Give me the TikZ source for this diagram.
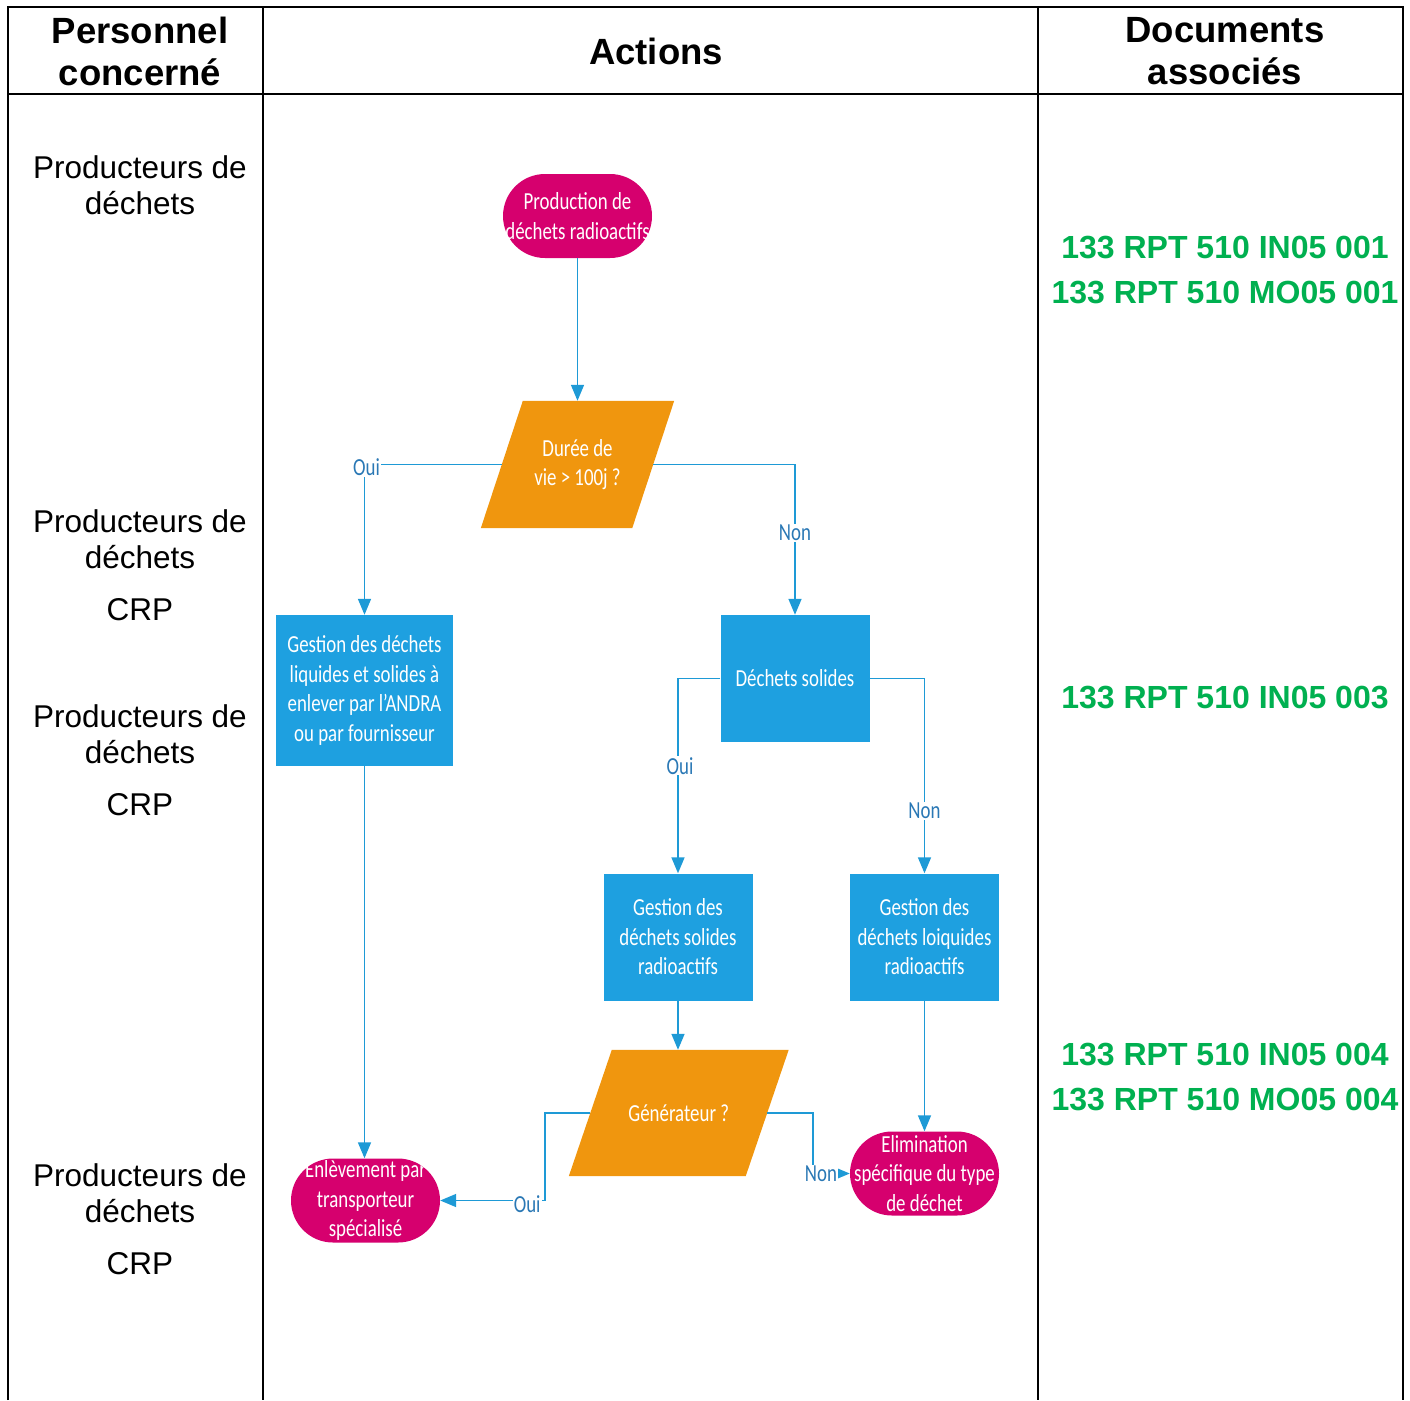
\documentclass[tikz,border=0pt]{standalone}
\usepackage{fontspec}
\setmainfont{Liberation Sans}
\newfontfamily\flowfont[FakeStretch=0.77]{Carlito}
\usetikzlibrary{arrows.meta,backgrounds}
\definecolor{termcol}{HTML}{D6006E}
\definecolor{deccol}{HTML}{F0960E}
\definecolor{boxcol}{HTML}{1EA0E0}
\definecolor{conncol}{HTML}{1E9AD6}
\definecolor{labcol}{HTML}{2A78B5}
\definecolor{doccol}{HTML}{00B050}
\tikzset{
  ftext/.style={font=\flowfont\fontsize{24.5}{29.5}\selectfont, text=white, align=center, inner sep=0pt},
  term/.style={ftext, fill=termcol, rounded corners=42pt, minimum width=149pt, minimum height=84pt},
  procbox/.style={ftext, fill=boxcol, minimum width=149pt, minimum height=127pt},
  decbox/.style={ftext, minimum height=127pt},
  conn/.style={draw=conncol, line width=1.6pt, -{Triangle[length=16pt,width=13pt]}},
  lab/.style={font=\flowfont\fontsize{24.5}{27}\selectfont, text=labcol, fill=white, inner sep=1pt},
  lane/.style={font=\fontsize{31.5}{36}\selectfont, align=center},
  head/.style={font=\bfseries\fontsize{36.5}{42}\selectfont, align=center},
  doc/.style={font=\bfseries\fontsize{32}{45}\selectfont, text=doccol, align=center},
  tab/.style={line width=2pt, black}
}
\begin{document}
\begin{tikzpicture}[x=1pt,y=-1pt]
\useasboundingbox (0,0) rectangle (1410,1400);
% table
\draw[tab] (8,1400) -- (8,7) -- (1403,7) -- (1403,1400);
\draw[tab] (8,94) -- (1403,94);
\draw[tab] (263,7) -- (263,1400);
\draw[tab] (1038,7) -- (1038,1400);
% headers
\node[head] (h1) at (140,51) {Personnel\\concerné};
\node[head] (h2) at (656,51) {Actions};
\node[head] (h3) at (1225,51) {Documents\\associés};
% lane texts
\node[lane] (p1) at (140,185) {Producteurs de\\déchets};
\node[lane] (p2) at (140,565) {Producteurs de\\déchets\\[16pt]CRP};
\node[lane] (p3) at (140,760) {Producteurs de\\déchets\\[16pt]CRP};
\node[lane] (p4) at (140,1219) {Producteurs de\\déchets\\[16pt]CRP};
% documents
\node[doc] (d01) at (1225,270) {133 RPT 510 IN05 001\\133 RPT 510 MO05 001};
\node[doc] (d03) at (1225,697) {133 RPT 510 IN05 003};
\node[doc] (d04) at (1225,1077) {133 RPT 510 IN05 004\\133 RPT 510 MO05 004};
% flow nodes
\node[term] (t1) at (577.5,216) {Production de\\déchets radioactifs};
\node[decbox, minimum width=151pt] (q1) at (577.5,464.5) {Durée de\\vie > 100j ?};
\node[procbox, minimum width=177pt, minimum height=151pt] (b1) at (364.5,690.5) {Gestion des déchets\\liquides et solides à\\enlever par l’ANDRA\\ou par fournisseur};
\node[procbox] (b2) at (795,678.5) {Déchets solides};
\node[procbox] (b3) at (678,937) {Gestion des\\déchets solides\\radioactifs};
\node[procbox] (b4) at (924.5,937) {Gestion des\\déchets loiquides\\radioactifs};
\node[decbox, minimum width=176.5pt, minimum height=126pt] (q2) at (678.75,1113) {Générateur ?};
\node[term] (t2) at (365.5,1200.5) {Enlèvement par\\transporteur\\spécialisé};
\node[term] (t3) at (924.5,1173.5) {Elimination\\spécifique du type\\de déchet};
\begin{scope}[on background layer]
\fill[deccol] ([xshift=-21pt]q1.south west) -- ([xshift=-21pt]q1.south east) -- ([xshift=21pt]q1.north east) -- ([xshift=21pt]q1.north west) -- cycle;
\fill[deccol] ([xshift=-21.5pt]q2.south west) -- ([xshift=-21.5pt]q2.south east) -- ([xshift=21.5pt]q2.north east) -- ([xshift=21.5pt]q2.north west) -- cycle;
\end{scope}
% connectors
\draw[conn] (t1) -- (q1);
\draw[conn] (q1.west) -| node[lab, pos=0.5, yshift=-3pt, xshift=2pt]{Oui} (b1.north);
\draw[conn] (q1.east) -| node[lab, pos=0.728]{Non} (b2.north);
\draw[conn] (b2.west) -| node[lab, pos=0.724, xshift=2pt]{Oui} (b3.north);
\draw[conn] (b2.east) -| node[lab, pos=0.84]{Non} (b4.north);
\draw[conn] (b1.south) -- (b1.south |- t2.north);
\draw[conn] (b3) -- (b3.south |- q2.north);
\draw[conn] (b4) -- (t3);
\coordinate (k1) at (545,1200.5);
\coordinate (k2) at (813,1173.5);
\draw[conn] (q2.west) -| (k1) -- node[lab, pos=0.17, yshift=-4pt]{Oui} (t2.east);
\draw[conn] (q2.east) -| (k2) -- (t3.west);
\node[lab] (nn) at (821,1173.5) {Non};
\end{tikzpicture}
\end{document}
